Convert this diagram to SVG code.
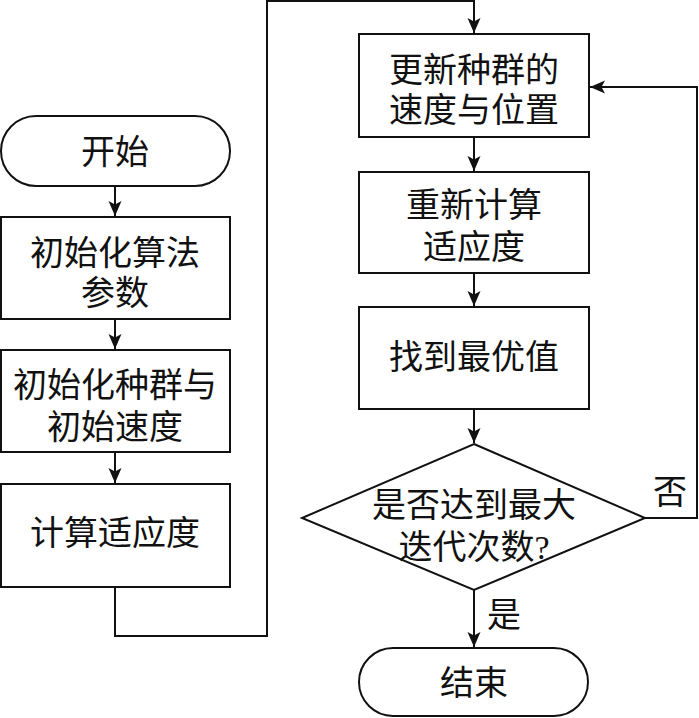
<svg xmlns="http://www.w3.org/2000/svg" width="699" height="718" viewBox="0 0 699 718">
<style>
.s{fill:#fff;stroke:#111;stroke-width:2}
.t{font-family:"Liberation Serif","Noto Sans CJK SC",serif;font-size:34px;fill:#111;text-anchor:middle}
.c{fill:none;stroke:#111;stroke-width:2}
</style>
<defs>
<marker id="a" markerUnits="userSpaceOnUse" markerWidth="16" markerHeight="16" refX="15" refY="8" orient="auto">
<path d="M0,1.5 L15,8 L0,14.5 L3.5,8 Z" fill="#111"/>
</marker>
</defs>
<rect width="699" height="718" fill="#fff"/>
<g id="connectors">
<line class="c" x1="115" y1="186" x2="115" y2="216" marker-end="url(#a)"/>
<line class="c" x1="115" y1="319" x2="115" y2="349" marker-end="url(#a)"/>
<line class="c" x1="115" y1="452" x2="115" y2="483" marker-end="url(#a)"/>
<polyline class="c" points="115,587 115,636 267,636 267,1 474,1 474,33" marker-end="url(#a)"/>
<line class="c" x1="474" y1="137" x2="474" y2="171" marker-end="url(#a)"/>
<line class="c" x1="474" y1="273" x2="474" y2="306" marker-end="url(#a)"/>
<line class="c" x1="474" y1="409" x2="474" y2="443" marker-end="url(#a)"/>
<polyline class="c" points="645,518 697,518 697,87 590,87" marker-end="url(#a)"/>
<line class="c" x1="474" y1="590" x2="474" y2="647" marker-end="url(#a)"/>
<text class="t" x="670" y="504">否</text>
<text class="t" x="504" y="627">是</text>
</g>
<g id="start">
<rect class="s" x="1" y="116" width="229" height="70" rx="35"/>
<text class="t" x="115" y="164">开始</text>
</g>
<g id="init-params">
<rect class="s" x="1" y="217" width="229" height="102"/>
<text class="t" x="115" y="265">初始化算法</text>
<text class="t" x="115" y="305">参数</text>
</g>
<g id="init-pop">
<rect class="s" x="1" y="350" width="229" height="102"/>
<text class="t" x="115" y="397">初始化种群与</text>
<text class="t" x="115" y="439">初始速度</text>
</g>
<g id="calc-fitness">
<rect class="s" x="1" y="484" width="229" height="103"/>
<text class="t" x="115" y="545">计算适应度</text>
</g>
<g id="update">
<rect class="s" x="359" y="34" width="230" height="103"/>
<text class="t" x="474" y="82">更新种群的</text>
<text class="t" x="474" y="122">速度与位置</text>
</g>
<g id="recalc">
<rect class="s" x="359" y="172" width="230" height="101"/>
<text class="t" x="474" y="217">重新计算</text>
<text class="t" x="474" y="259">适应度</text>
</g>
<g id="best">
<rect class="s" x="359" y="307" width="230" height="102"/>
<text class="t" x="474" y="369">找到最优值</text>
</g>
<g id="decision">
<polygon class="s" points="474,444 645,518 474,590 302,518"/>
<text class="t" x="474" y="517">是否达到最大</text>
<text class="t" x="474" y="559">迭代次数?</text>
</g>
<g id="end">
<rect class="s" x="359" y="648" width="229" height="68" rx="34"/>
<text class="t" x="474" y="695">结束</text>
</g>
</svg>
